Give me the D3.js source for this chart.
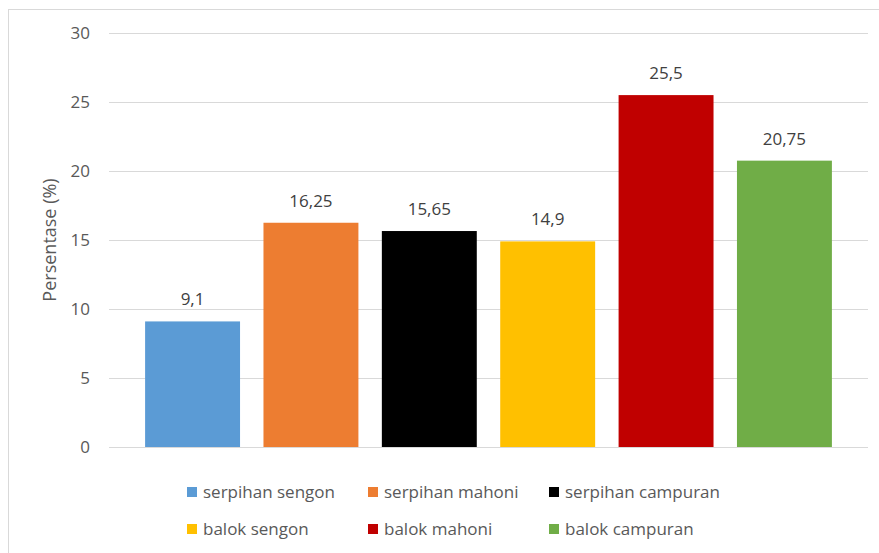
<!DOCTYPE html>
<html>
<head>
<meta charset="utf-8">
<script src="https://cdn.jsdelivr.net/npm/d3@7"></script>
<style>
  html, body { margin: 0; padding: 0; background: #fff; }
  svg { display: block; font-family: "Open Sans", "Noto Sans", sans-serif; }
</style>
</head>
<body>
<svg id="chart" width="879" height="553"></svg>
<script>
// Series (one bar each) and their values in percent
const seriesNames = ["serpihan sengon", "serpihan mahoni", "serpihan campuran",
                     "balok sengon", "balok mahoni", "balok campuran"];
const seriesValues = [9.1, 16.25, 15.65, 14.9, 25.5, 20.75];
const seriesColors = ["#5B9BD5", "#ED7D31", "#000000", "#FFC000", "#C00000", "#70AD47"];
const yTicks = [0, 5, 10, 15, 20, 25, 30];
const yLabel = "Persentase (%)";

const svg = d3.select("#chart");
const W = 879, H = 553;
const plot = { left: 109, right: 868, top: 33, bottom: 447 };

// chart frame
svg.append("rect")
  .attr("x", 8.5).attr("y", 9.5)
  .attr("width", W + 20).attr("height", H + 20)
  .attr("fill", "#fff").attr("stroke", "#d9d9d9").attr("stroke-width", 1);

const x = d3.scaleBand()
  .domain(seriesNames)
  .range([plot.left, plot.right])
  .paddingInner(0.198)
  .paddingOuter(0.305);

const y = d3.scaleLinear().domain([0, 30]).range([plot.bottom, plot.top]);

// horizontal gridlines and tick labels
const yAxis = d3.axisLeft(y)
  .tickValues(yTicks)
  .tickSize(-(plot.right - plot.left))
  .tickPadding(19)
  .tickFormat(d3.format("d"));

const gy = svg.append("g")
  .attr("transform", `translate(${plot.left},0)`)
  .call(yAxis);
gy.select(".domain").remove();
gy.selectAll(".tick line").attr("stroke", "#d9d9d9").attr("stroke-width", 1);
gy.selectAll(".tick text")
  .attr("fill", "#595959")
  .style("font-size", "17px")
  .style("font-family", "'Open Sans', 'Noto Sans', sans-serif");

// axis title
svg.append("text")
  .attr("transform", `translate(56,${(plot.top + plot.bottom) / 2}) rotate(-90)`)
  .attr("text-anchor", "middle")
  .attr("fill", "#595959")
  .style("font-size", "18px")
  .text(yLabel);

// bars
svg.append("g").selectAll("rect")
  .data(seriesNames.map((n, i) => ({ name: n, value: seriesValues[i], color: seriesColors[i] })))
  .join("rect")
  .attr("x", d => x(d.name))
  .attr("y", d => y(d.value))
  .attr("width", x.bandwidth())
  .attr("height", d => y(0) - y(d.value))
  .attr("fill", d => d.color);

// value labels above bars
const fmt = v => String(v).replace(".", ",");
svg.append("g").selectAll("text")
  .data(seriesNames.map((n, i) => ({ name: n, value: seriesValues[i] })))
  .join("text")
  .attr("x", d => x(d.name) + x.bandwidth() / 2)
  .attr("y", d => y(d.value) - 16)
  .attr("text-anchor", "middle")
  .attr("fill", "#404040")
  .style("font-size", "17px")
  .text(d => fmt(d.value));

// legend: two rows of three entries
const legendCols = [187, 368, 549];
const legendRows = [492, 529];
const lg = svg.append("g");
seriesNames.forEach((n, i) => {
  const cx = legendCols[i % 3], cy = legendRows[Math.floor(i / 3)];
  lg.append("rect")
    .attr("x", cx).attr("y", cy - 5)
    .attr("width", 10).attr("height", 10)
    .attr("fill", seriesColors[i]);
  lg.append("text")
    .attr("x", cx + 16).attr("y", cy)
    .attr("dy", "0.35em")
    .attr("fill", "#595959")
    .style("font-size", "17px")
    .text(n);
});
</script>
</body>
</html>
